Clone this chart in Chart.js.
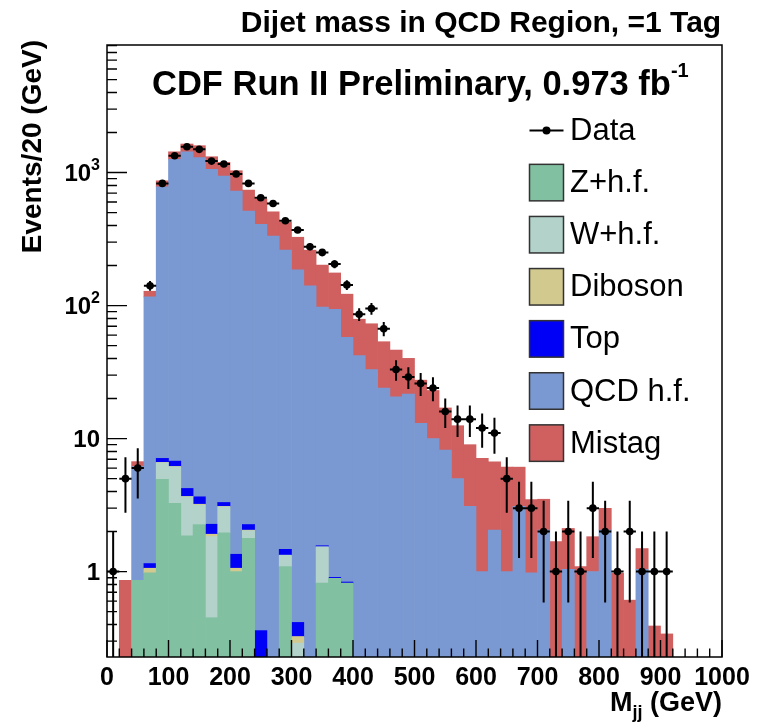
<!DOCTYPE html>
<html>
<head>
<meta charset="utf-8">
<title>Dijet mass in QCD Region, =1 Tag</title>
<script src="https://cdn.jsdelivr.net/npm/chart.js@4.4.1/dist/chart.umd.min.js"></script>
<style>
  html, body { margin: 0; padding: 0; background: #fff; }
  #wrap { width: 763px; height: 724px; }
</style>
</head>
<body>
<div id="wrap"><canvas id="mjj"></canvas></div>
<script>
// Dijet invariant mass in the QCD control region, exactly one tag.
// 20 GeV bins from 0 to 1000 GeV. Backgrounds are stacked on a log axis,
// observed counts go on top as points with sqrt(N) error bars.

const BIN_WIDTH = 20;
const binCenters = Array.from({ length: 50 }, (_, i) => BIN_WIDTH * i + BIN_WIDTH / 2);

// observed events per bin (null = empty bin)
const dataCounts = [
  1, 5, 6, 141, 829, 1337, 1563, 1494, 1220, 1159,
  975, 829, 647, 586, 434, 370, 277, 251, 205, 143,
  86, 95, 67, 33, 29, 26, 24, 16, 14, 14,
  12, 11, 5, 3, 3, 2, 1, 2, 1, 3,
  2, 1, 2, 1, 1, 1, null, null, null, null
];

// background predictions, bottom of the stack first
const zHf = [
  null, null, 0.86, 0.98, 4.94, 3.26, 1.86, 2.26, 0.45, 1.96,
  1.0, 1.78, null, null, 1.09, null, null, 0.82, 0.89, 0.82,
  null, null, null, null, null, null, null, null, null, null,
  null, null, null, null, null, null, null, null, null, null,
  null, null, null, null, null, null, null, null, null, null
];
const wHf = [
  null, null, null, null, 1.64, 2.88, 1.79, 0.9, 1.38, 1.11,
  null, 0.25, null, null, 0.24, 0.29, null, 0.72, null, null,
  null, null, null, null, null, null, null, null, null, null,
  null, null, null, null, null, null, null, null, null, null,
  null, null, null, null, null, null, null, null, null, null
];
const diboson = [
  null, null, null, 0.08, 0.04, 0.03, 0.02, 0.05, 0.08, 0.02,
  0.06, 0.02, null, null, null, 0.035, null, null, null, null,
  null, null, null, null, null, null, null, null, null, null,
  null, null, null, null, null, null, null, null, null, null,
  null, null, null, null, null, null, null, null, null, null
];
const topQuark = [
  null, null, null, 0.09, 0.48, 0.6, 0.55, 0.44, 0.36, 0.22,
  0.29, 0.21, 0.36, null, 0.14, 0.09, null, 0.025, 0.015, 0.015,
  null, null, null, null, null, null, null, null, null, null,
  null, null, null, null, null, null, null, null, null, null,
  null, null, null, null, null, null, null, null, null, null
];
const qcdHf = [
  null, null, 5.3, 115, 775, 1250, 1430, 1290, 1055, 938,
  725, 512, 408, 333, 260, 185, 141, 96, 93, 57,
  42, 33, 24, 20.6, 21.6, 13, 10, 8.2, 5.0, 3.1,
  1.0, 2.05, 1.0, 3.1, 0.98, 2.05, null, 1.04, null, 1.0,
  2.05, null, null, 1.04, null, null, null, null, null, null
];
const mistag = [
  null, 0.86, 0.55, 12, 85, 176, 205, 299, 258, 252,
  306, 224, 224, 174, 161, 141, 120, 104, 82, 64,
  37, 40, 29.5, 25.7, 18.5, 14.5, 13, 8.8, 7.5, 5.9,
  6.1, 4.65, 5.1, 3.0, 2.5, 1.45, 1.68, 1.07, 1.09, 0.83,
  0.94, 0.97, 0.61, 0.45, 0.39, 0.34, null, null, null, null
];

const Y_MIN = 0.228;
const Y_MAX = 9100;
const X_TICKS = [0, 100, 200, 300, 400, 500, 600, 700, 800, 900, 1000];
const Y_DECADES = [0, 1, 2, 3];   // labelled powers of ten

const FONT = '"Liberation Sans", Arial, Helvetica, sans-serif';

function toPoints(values) {
  return values.map((y, i) => ({ x: binCenters[i], y }));
}

function histo(label, values, color) {
  return {
    type: 'bar',
    label,
    data: toPoints(values),
    backgroundColor: color,
    borderWidth: 0,
    stack: 'bkg',
    barPercentage: 1,
    categoryPercentage: 1
  };
}

/* ----------------------------- data error bars ---------------------------- */
const errorBars = {
  id: 'errorBars',
  afterDatasetsDraw(chart) {
    const { ctx, chartArea: a, scales: { x, y } } = chart;
    ctx.save();
    ctx.beginPath();
    ctx.rect(a.left, a.top, a.width, a.height);
    ctx.clip();
    ctx.strokeStyle = '#000';
    ctx.lineWidth = 2;
    ctx.beginPath();
    dataCounts.forEach((n, i) => {
      if (!n) return;
      const err = Math.sqrt(n);
      const cx = x.getPixelForValue(binCenters[i]);
      const py = y.getPixelForValue(n);
      ctx.moveTo(x.getPixelForValue(binCenters[i] - BIN_WIDTH / 2), py);
      ctx.lineTo(x.getPixelForValue(binCenters[i] + BIN_WIDTH / 2), py);
      const lo = n - err > 0 ? y.getPixelForValue(n - err) : a.bottom;
      ctx.moveTo(cx, y.getPixelForValue(n + err));
      ctx.lineTo(cx, lo);
    });
    ctx.stroke();
    ctx.restore();
  }
};

/* ------------------ frame, inward ticks, log axis labels ------------------ */
const frameTicks = {
  id: 'frameTicks',
  afterDatasetsDraw(chart) {
    const { ctx, chartArea: a, scales: { x, y } } = chart;
    ctx.save();
    ctx.strokeStyle = '#000';
    ctx.lineWidth = 1.4;
    ctx.beginPath();
    x.ticks.forEach(t => {
      const px = x.getPixelForValue(t.value);
      const len = t.value % 100 === 0 ? 17 : 8.5;
      ctx.moveTo(px, a.bottom);
      ctx.lineTo(px, a.bottom - len);
    });
    for (let e = -1; e <= 4; e++) {
      for (let k = 1; k <= 9; k++) {
        const v = k * Math.pow(10, e);
        if (v < Y_MIN || v > Y_MAX) continue;
        const py = y.getPixelForValue(v);
        ctx.moveTo(a.left, py);
        ctx.lineTo(a.left + (k === 1 ? 20 : 10), py);
      }
    }
    ctx.stroke();
    ctx.lineWidth = 1.5;
    ctx.strokeRect(a.left, a.top, a.width, a.height);

    // 1, 10, 10^2, 10^3 with a real raised exponent
    ctx.fillStyle = '#000';
    ctx.textBaseline = 'alphabetic';
    ctx.textAlign = 'right';
    Y_DECADES.forEach(e => {
      const py = y.getPixelForValue(Math.pow(10, e));
      const right = a.left - 7;
      if (e < 2) {
        ctx.font = `bold 24px ${FONT}`;
        ctx.fillText(e === 0 ? '1' : '10', right, py + 8.5);
      } else {
        ctx.font = `bold 16px ${FONT}`;
        const sw = ctx.measureText(String(e)).width;
        ctx.fillText(String(e), right, py - 3);
        ctx.font = `bold 24px ${FONT}`;
        ctx.fillText('10', right - sw, py + 8.5);
      }
    });
    ctx.restore();
  }
};

/* ------------------------ titles, axis titles, key ------------------------ */
function textWithScript(ctx, parts, x, y, align) {
  // parts: [{ text, size, dy }]
  const widths = parts.map(p => {
    ctx.font = `bold ${p.size}px ${FONT}`;
    return ctx.measureText(p.text).width;
  });
  const total = widths.reduce((s, w) => s + w, 0);
  let cx = align === 'right' ? x - total : x;
  ctx.textAlign = 'left';
  parts.forEach((p, i) => {
    ctx.font = `bold ${p.size}px ${FONT}`;
    ctx.fillText(p.text, cx, y + (p.dy || 0));
    cx += widths[i];
  });
}

const annotations = {
  id: 'annotations',
  afterDraw(chart) {
    const { ctx, chartArea: a } = chart;
    ctx.save();
    ctx.fillStyle = '#000';
    ctx.textBaseline = 'alphabetic';

    ctx.font = `bold 30px ${FONT}`;
    ctx.textAlign = 'center';
    ctx.fillText('Dijet mass in QCD Region, =1 Tag', 481, 32);

    textWithScript(ctx, [
      { text: 'CDF Run II Preliminary, 0.973 fb', size: 34.5 },
      { text: '-1', size: 20, dy: -18 }
    ], 152, 95, 'left');

    textWithScript(ctx, [
      { text: 'M', size: 27 },
      { text: 'jj', size: 18, dy: 7 },
      { text: ' (GeV)', size: 27 }
    ], a.right, 711, 'right');

    ctx.save();
    ctx.translate(41, 40);
    ctx.rotate(-Math.PI / 2);
    ctx.font = `bold 28px ${FONT}`;
    ctx.textAlign = 'right';
    ctx.fillText('Events/20 (GeV)', 0, 0);
    ctx.restore();

    // key
    const boxL = 529.5, boxW = 34, boxH = 36.5;
    let cy = 130.5;
    ctx.font = `31px ${FONT}`;
    ctx.textAlign = 'left';
    ctx.textBaseline = 'middle';
    chart.data.datasets.forEach(ds => {
      if (ds.type === 'line') {
        ctx.strokeStyle = '#000';
        ctx.lineWidth = 2;
        ctx.beginPath();
        ctx.moveTo(boxL, cy);
        ctx.lineTo(boxL + boxW, cy);
        ctx.stroke();
        ctx.beginPath();
        ctx.arc(boxL + boxW / 2, cy, 4, 0, Math.PI * 2);
        ctx.fill();
      } else {
        ctx.fillStyle = ds.backgroundColor;
        ctx.fillRect(boxL, cy - boxH / 2, boxW, boxH);
        ctx.strokeStyle = '#333';
        ctx.lineWidth = 1.5;
        ctx.strokeRect(boxL, cy - boxH / 2, boxW, boxH);
      }
      ctx.fillStyle = '#000';
      ctx.fillText(ds.label, 570, cy + 1);
      cy += 52.1;
    });
    ctx.restore();
  }
};

new Chart(document.getElementById('mjj'), {
  data: {
    datasets: [
      {
        type: 'line',
        label: 'Data',
        data: toPoints(dataCounts),
        stack: 'obs',
        showLine: false,
        pointRadius: 3.8,
        pointHoverRadius: 3.8,
        pointBackgroundColor: '#000',
        pointBorderWidth: 0
      },
      histo('Z+h.f.', zHf, '#82c0a2'),
      histo('W+h.f.', wHf, '#b2d2ca'),
      histo('Diboson', diboson, '#d2c98e'),
      histo('Top', topQuark, '#0000f6'),
      histo('QCD h.f.', qcdHf, '#7a98d1'),
      histo('Mistag', mistag, '#d05f5f')
    ]
  },
  options: {
    responsive: true,
    maintainAspectRatio: false,
    animation: false,
    layout: { padding: { top: 45, right: 41, left: 0, bottom: 0 } },
    plugins: {
      legend: { display: false },
      tooltip: { enabled: false },
      title: { display: false }
    },
    scales: {
      x: {
        type: 'linear',
        min: 0,
        max: 1000,
        offset: false,
        stacked: true,
        grid: { display: false, drawTicks: false },
        border: { display: false },
        ticks: {
          stepSize: 20,
          autoSkip: false,
          maxRotation: 0,
          padding: 6,
          color: '#000',
          font: { family: FONT, size: 25, weight: 'bold' },
          callback: v => (X_TICKS.includes(v) ? String(v) : '')
        },
        afterFit: s => { s.height = 67; }
      },
      y: {
        type: 'logarithmic',
        min: Y_MIN,
        max: Y_MAX,
        stacked: true,
        grid: { display: false, drawTicks: false },
        border: { display: false },
        ticks: { display: false },
        afterFit: s => { s.width = 107; }
      }
    }
  },
  plugins: [errorBars, frameTicks, annotations]
});
</script>
</body>
</html>
